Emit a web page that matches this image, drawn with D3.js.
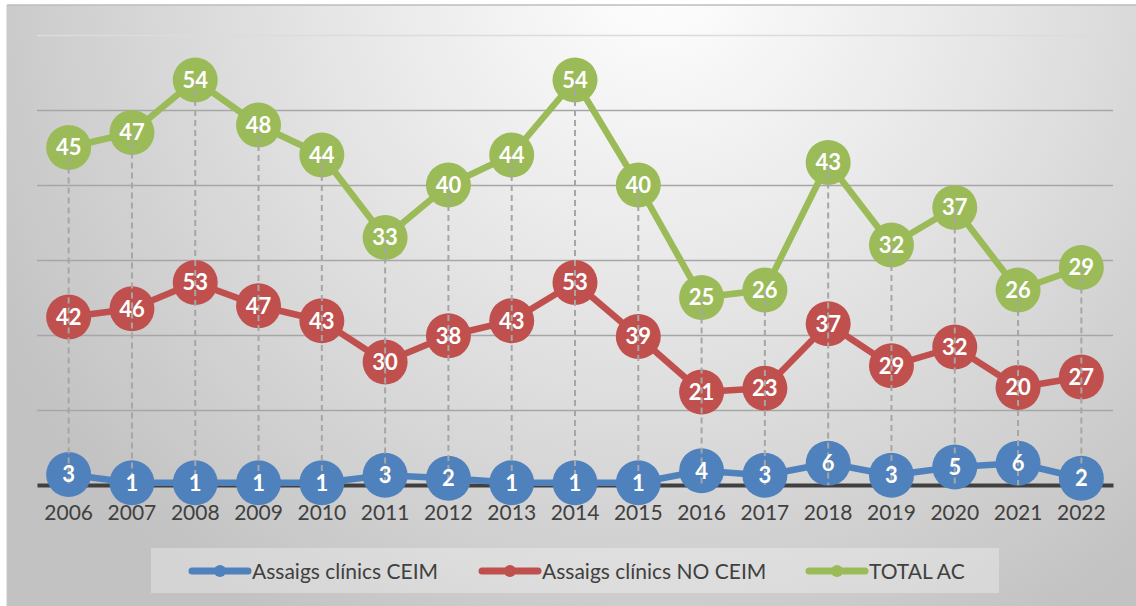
<!DOCTYPE html>
<html>
<head>
<meta charset="utf-8">
<script src="https://cdn.jsdelivr.net/npm/d3@7/dist/d3.min.js"></script>
<style>
  body { margin: 0; background: #ffffff; }
  svg { display: block; font-family: Lato, "Open Sans", sans-serif; }
</style>
</head>
<body>
<div id="chart"></div>
<script>
// Years on the category axis
const years = ['2006','2007','2008','2009','2010','2011','2012','2013','2014',
               '2015','2016','2017','2018','2019','2020','2021','2022'];

// Data labels as printed on the markers
const ceimLabels   = [3, 1, 1, 1, 1, 3, 2, 1, 1, 1, 4, 3, 6, 3, 5, 6, 2];
const noCeimLabels = [42, 46, 53, 47, 43, 30, 38, 43, 53, 39, 21, 23, 37, 29, 32, 20, 27];
const totalLabels  = [45, 47, 54, 48, 44, 33, 40, 44, 54, 40, 25, 26, 43, 32, 37, 26, 29];

const ceimPlotted   = [1.4, 0.3, 0.3, 0.3, 0.3, 1.3, 0.9, 0.3, 0.3, 0.3, 1.9, 1.3, 2.9, 1.3, 2.4, 2.9, 0.9];
const noCeimPlotted = [22.4, 23.5, 27.0, 23.9, 21.9, 16.4, 19.9, 21.9, 27.0, 19.8, 12.4, 12.9, 21.5, 15.9, 18.4, 13.0, 14.4];
const totalPlotted  = totalLabels;

const yTicks = [0, 10, 20, 30, 40, 50, 60];

const seriesNames  = ['Assaigs clínics CEIM', 'Assaigs clínics NO CEIM', 'TOTAL AC'];
const seriesColors = ['#4f81bd', '#c0504d', '#9bbb59'];

const width  = 1136;
const height = 606;
const margin = {top: 35, left: 37, right: 23, bottom: 121};

const series = [
  {name: seriesNames[0], color: seriesColors[0], plotted: ceimPlotted,   labels: ceimLabels},
  {name: seriesNames[1], color: seriesColors[1], plotted: noCeimPlotted, labels: noCeimLabels},
  {name: seriesNames[2], color: seriesColors[2], plotted: totalPlotted,  labels: totalLabels}
];

const svg = d3.select('#chart')
  .append('svg')
  .attr('width', width)
  .attr('height', height);

// Chart area background
const defs = svg.append('defs');
const grad = defs.append('radialGradient')
  .attr('id', 'bgGrad')
  .attr('gradientUnits', 'userSpaceOnUse')
  .attr('cx', 660).attr('cy', -30)
  .attr('r', 760);
grad.append('stop').attr('offset', '0%').attr('stop-color', '#ffffff');
grad.append('stop').attr('offset', '40%').attr('stop-color', '#e8e8e8');
grad.append('stop').attr('offset', '100%').attr('stop-color', '#c2c2c2');

svg.append('rect')
  .attr('x', 7).attr('y', 5)
  .attr('width', width - 7).attr('height', height - 5)
  .style('fill', 'url(#bgGrad)');
svg.append('line')
  .attr('x1', 7).attr('x2', width)
  .attr('y1', 5).attr('y2', 5)
  .style('stroke', '#bdbdbd').style('stroke-width', 1.5);
svg.append('line')
  .attr('x1', 7).attr('x2', 7)
  .attr('y1', 5).attr('y2', height)
  .style('stroke', '#c8c8c8').style('stroke-width', 1);

const xScale = d3.scaleBand()
  .domain(years)
  .range([margin.left, width - margin.right])
  .padding(0);

const yScale = d3.scaleLinear()
  .domain([0, 60])
  .range([height - margin.bottom, margin.top]);

const xPos = d => xScale(d) + xScale.bandwidth() / 2;

// Horizontal gridlines
svg.append('g')
  .attr('class', 'grid')
  .attr('transform', `translate(${margin.left}, 0)`)
  .call(d3.axisLeft(yScale).tickValues(yTicks.filter(t => t > 0)).tickSize(-(width - margin.left - margin.right)).tickFormat(''))
  .call(g => g.select('.domain').remove())
  .call(g => g.selectAll('.tick line')
    .style('stroke', d => d === 60 ? '#dcdcdc' : '#a6a6a6')
    .style('stroke-width', 1.6));

// Category axis
const xAxis = svg.append('g')
  .attr('class', 'x-axis')
  .attr('transform', `translate(0, ${yScale(0)})`)
  .call(d3.axisBottom(xScale).tickSize(0).tickPadding(20));
xAxis.select('.domain')
  .style('stroke', '#404040')
  .style('stroke-width', 4);
xAxis.selectAll('text')
  .style('font-size', '21px')
  .style('font-family', 'Lato, sans-serif')
  .style('fill', '#404040');

// Lines
const line = d3.line()
  .x((d, i) => xPos(years[i]))
  .y(d => yScale(d));

series.forEach(s => {
  svg.append('path')
    .datum(s.plotted)
    .attr('d', line)
    .style('fill', 'none')
    .style('stroke', s.color)
    .style('stroke-width', 6.5)
    .style('stroke-linejoin', 'round');
});

// Markers
series.forEach(s => {
  svg.append('g')
    .selectAll('circle')
    .data(s.plotted)
    .enter()
    .append('circle')
    .attr('cx', (d, i) => xPos(years[i]))
    .attr('cy', d => yScale(d))
    .attr('r', 22.5)
    .style('fill', s.color);
});

// Drop lines from the highest point down to the axis
const highest = years.map((y, i) => d3.max(series, s => s.plotted[i]));
svg.append('g')
  .selectAll('line')
  .data(highest)
  .enter()
  .append('line')
  .attr('x1', (d, i) => xPos(years[i]))
  .attr('x2', (d, i) => xPos(years[i]))
  .attr('y1', d => yScale(d))
  .attr('y2', yScale(0))
  .style('stroke', '#a6a6a6')
  .style('stroke-width', 2)
  .style('stroke-dasharray', '6,4');

// Data labels
series.forEach(s => {
  svg.append('g')
    .selectAll('text')
    .data(s.labels)
    .enter()
    .append('text')
    .attr('x', (d, i) => xPos(years[i]))
    .attr('y', (d, i) => yScale(s.plotted[i]))
    .attr('dy', '0.36em')
    .attr('text-anchor', 'middle')
    .style('font-size', '22px')
    .style('font-weight', 'bold')
    .style('fill', '#ffffff')
    .text(d => d);
});

// Legend
const legend = svg.append('g').attr('class', 'legend');
legend.append('rect')
  .attr('x', 151).attr('y', 548)
  .attr('width', 848).attr('height', 45)
  .style('fill', '#ffffff')
  .style('opacity', 0.3);

const legendX = [192, 482, 809];
series.forEach((s, i) => {
  const g = legend.append('g').attr('transform', `translate(${legendX[i]}, 571)`);
  g.append('line')
    .attr('x1', 0).attr('x2', 56)
    .attr('y1', 0).attr('y2', 0)
    .style('stroke', s.color)
    .style('stroke-width', 7)
    .style('stroke-linecap', 'round');
  g.append('circle')
    .attr('cx', 28).attr('cy', 0).attr('r', 6)
    .style('fill', s.color);
  g.append('text')
    .attr('x', 60)
    .attr('dy', '0.36em')
    .style('font-size', '21px')
    .style('fill', '#404040')
    .text(s.name);
});
</script>
</body>
</html>
